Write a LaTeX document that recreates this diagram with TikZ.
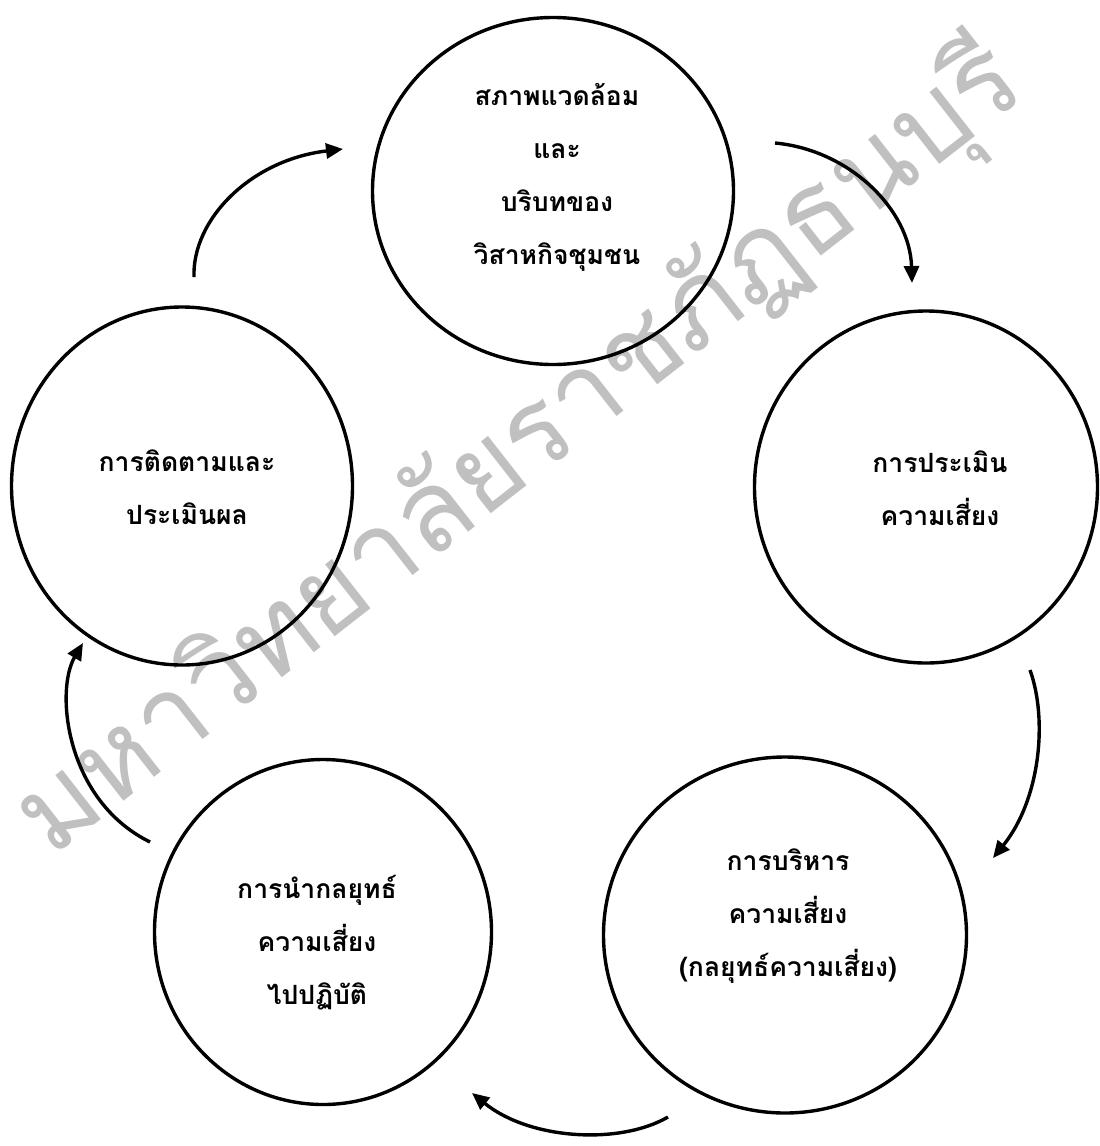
\documentclass[tikz,border=0pt]{standalone}
\usepackage{fontspec}
\newfontfamily\thaifont[Script=Thai]{Loma}
\usetikzlibrary{arrows.meta,shapes.geometric}
\definecolor{wmgray}{HTML}{C0C0C0}
\tikzset{
  x=1pt,y=-1pt,
  stage/.style={draw=black,line width=3.4pt,ellipse,inner sep=0pt},
  label/.style={font=\thaifont\bfseries\fontsize{26.5}{53}\selectfont,align=center,text=black,inner sep=0pt},
  flow/.style={line width=3.4pt,-{Triangle[length=17pt,width=15pt]}},
}
\begin{document}
\begin{tikzpicture}
\useasboundingbox (0,0) rectangle (1100,1146);
% watermark
\node[text=wmgray,rotate=38,inner sep=0pt] (wm) at (520,450)
  {\resizebox{1240pt}{!}{\thaifont มหาวิทยาลัยราชภัฏธนบุรี}};
% stages
\node[stage,minimum width=361pt,minimum height=347pt] (top) at (553,191) {};
\node[stage,minimum width=343pt,minimum height=352pt] (right) at (926,487) {};
\node[stage,minimum width=363pt,minimum height=356pt] (bright) at (785,935) {};
\node[stage,minimum width=337pt,minimum height=345pt] (bleft) at (323,932) {};
\node[stage,minimum width=341pt,minimum height=358pt] (left) at (182,486) {};
% texts
\node[label] (ttop) at (557,177) {สภาพแวดล้อม\\และ\\บริบทของ\\วิสาหกิจชุมชน};
\node[label] (tright) at (940,488) {การประเมิน\\ความเสี่ยง};
\node[label] (tbright) at (788,916) {การบริหาร\\ความเสี่ยง\\(กลยุทธ์ความเสี่ยง)};
\node[label] (tbleft) at (317,943) {การนำกลยุทธ์\\ความเสี่ยง\\ไปปฏิบัติ};
\node[label] (tleft) at (187,487) {การติดตามและ\\ประเมินผล};
% arrow end points
\coordinate (a1s) at (775,143); \coordinate (a1e) at (912,283);
\coordinate (a2s) at (1030,670); \coordinate (a2e) at (993,858);
\coordinate (a3s) at (668,1117); \coordinate (a3e) at (472,1093);
\coordinate (a4s) at (150,842); \coordinate (a4e) at (83,643);
\coordinate (a5s) at (194,277); \coordinate (a5e) at (343,149);
% arrows
\draw[flow] (a1s) .. controls (850,150) and (910,210) .. (a1e);
\draw[flow] (a2s) .. controls (1048,720) and (1040,800) .. (a2e);
\draw[flow] (a3s) .. controls (620,1145) and (530,1140) .. (a3e);
\draw[flow] (a4s) .. controls (65,800) and (55,690) .. (a4e);
\draw[flow] (a5s) .. controls (192,220) and (250,160) .. (a5e);
\end{tikzpicture}
\end{document}
